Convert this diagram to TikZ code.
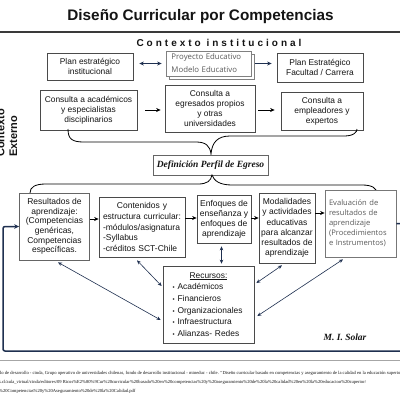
\documentclass[tikz,border=0pt]{standalone}
\usepackage{fontspec}
\setmainfont{Liberation Sans}
\newfontfamily\lightf{Open Sans}
\newfontfamily\serf{Liberation Serif}
\usetikzlibrary{arrows.meta,calc}
\definecolor{navy}{HTML}{1F3050}
\definecolor{boxc}{HTML}{4A4A4A}
\definecolor{lgray}{HTML}{5A5A5A}
\definecolor{txt}{HTML}{141414}
\definecolor{sepc}{HTML}{3A3A3A}
\newcommand\bul{{\fontsize{6}{6}\selectfont\textbullet}\hspace{3pt}}
\begin{document}
\begin{tikzpicture}[x=1pt,y=-1pt,
 bx/.style={draw=boxc, line width=0.7pt, fill=white, align=center, inner sep=1pt, text=txt, font=\fontsize{8.4}{10.5}\selectfont},
 arr/.style={-{Stealth[length=4.5pt,width=4pt]}, line width=0.9pt, black},
 narr/.style={-{Stealth[length=4.5pt,width=4pt]}, line width=0.9pt, navy},
 darr/.style={{Stealth[length=4.5pt,width=4pt]}-{Stealth[length=4.5pt,width=4pt]}, line width=0.9pt, navy},
 tarr/.style={{Stealth[length=4pt,width=3.5pt]}-{Stealth[length=4pt,width=3.5pt]}, line width=0.6pt, navy},
 bracel/.style={line width=0.8pt, black},
 plain/.style={inner sep=0, text=txt},
]
\useasboundingbox (0,0) rectangle (400,400);
\clip (0,0) rectangle (400,400);
\fill[white] (0,0) rectangle (400,400);

% title and separators
\node[plain, anchor=base, font=\bfseries\fontsize{15.3}{18}\selectfont] (title) at (200.5,20) {Diseño Curricular por Competencias};
\coordinate (s1a) at (0,32); \coordinate (s1b) at (400,32);
\draw[sepc, line width=1.6pt] (s1a) -- (s1b);
\node[plain, anchor=base, font=\bfseries\fontsize{10}{12}\selectfont\addfontfeature{LetterSpace=30}] (ctx) at (219,46) {Contexto institucional};

% vertical label
\node[plain, rotate=90, anchor=base west, font=\bfseries\fontsize{11}{13}\selectfont] (ext) at (17,157) {Externo};
\node[plain, rotate=90, anchor=base west, font=\bfseries\fontsize{11}{13}\selectfont] (cont) at (4.5,157) {Contexto};

% row 1
\node[bx, minimum width=86pt, minimum height=27pt] (pei) at (90,66.5) {Plan estratégico\\institucional};
\node[bx, draw=boxc!70, minimum width=85pt, minimum height=25pt] (pe2) at (211.5,66.5) {};
\node[bx, draw=boxc!70, minimum width=85pt, minimum height=25pt, text width=74pt, align=left, text=lgray, font=\lightf\fontsize{7.8}{13}\selectfont] (pe) at (208.5,63.5) {Proyecto Educativo\\Modelo Educativo};
\node[bx, minimum width=86pt, minimum height=29pt] (pef) at (320,67.5) {Plan Estratégico\\Facultad / Carrera};
\draw[darr, shorten <=6pt, shorten >=4pt] (pei.east |- pe.west) -- (pe.west);
\draw[narr, shorten <=4pt, shorten >=5pt] (pe.east) -- (pe.east -| pef.west);

% row 2
\node[bx, minimum width=97pt, minimum height=40pt, font=\fontsize{8.4}{10}\selectfont] (ca) at (88.5,110) {Consulta a académicos\\y especialistas\\disciplinarios};
\node[bx, minimum width=90pt, minimum height=47pt, font=\fontsize{8.4}{10}\selectfont] (ceg) at (210,108.5) {Consulta a\\egresados propios\\y otras\\universidades};
\node[bx, minimum width=82pt, minimum height=38pt, font=\fontsize{8.4}{10}\selectfont] (cem) at (322,111) {Consulta a\\empleadores y\\expertos};
\draw[arr, shorten <=8pt, shorten >=4pt] (ca.east) -- (ca.east -| ceg.west);
\draw[arr, shorten <=3pt, shorten >=6pt] (ceg.east |- ca.east) -- (cem.west |- ca.east);

% upper brace
\draw[bracel] (68,129) .. controls (68,139) and (72,142) .. (84,142) -- (196,142) .. controls (206,142) and (210,146) .. (211,154) .. controls (212,142) and (218,136) .. (230,136) -- (344,136) .. controls (354,136) and (357,132) .. (357,129);

% definicion
\node[bx, draw=boxc!85, minimum width=115pt, minimum height=20pt, font=\serf\bfseries\itshape\fontsize{9.5}{11}\selectfont] (def) at (210.5,165) {Definición Perfil de Egreso};

% lower brace
\draw[bracel] (30,193) .. controls (30,187) and (35,184) .. (46,184) -- (198,184) .. controls (207,184) and (211,181) .. (212,175) .. controls (214,181) and (220,185) .. (232,185) -- (362,185) .. controls (372,185) and (377,188) .. (377,194);

% row 3
\node[bx, draw=boxc!85, minimum width=70pt, minimum height=67pt, font=\fontsize{8.5}{9.6}\selectfont] (res) at (54.5,226.5) {Resultados de\\aprendizaje:\\(Competencias\\genéricas,\\Competencias\\específicas.};
\node[bx, minimum width=86pt, minimum height=60pt, text width=78pt, align=left, font=\fontsize{8.5}{10.7}\selectfont] (con) at (142,227) {\makebox[78pt]{Contenidos y}\\estructura curricular:\\-módulos/asignatura\\-Syllabus\\-créditos SCT-Chile};
\node[bx, minimum width=54pt, minimum height=48pt, font=\fontsize{8.5}{10}\selectfont] (enf) at (224,219) {Enfoques de\\enseñanza y\\enfoques de\\aprendizaje};
\node[bx, minimum width=56pt, minimum height=70pt, font=\fontsize{8.5}{10.2}\selectfont] (mod) at (287,228) {Modalidades\\y actividades\\educativas\\para alcanzar\\resultados de\\aprendizaje};
\node[bx, draw=boxc!75, minimum width=71pt, minimum height=67pt, text width=63pt, align=left, text=lgray, font=\lightf\fontsize{7.6}{10}\selectfont] (eva) at (360.5,223.5) {Evaluación de\\resultados de\\aprendizaje\\(Procedimientos\\e Instrumentos)};

\coordinate (ya) at (0,219);
\coordinate (yb) at (0,218);
\coordinate (yc) at (0,213);
\draw[arr] (res.east |- ya) -- (con.west |- ya);
\draw[arr] (con.east |- yb) -- (enf.west |- yb);
\draw[arr] (enf.east |- yb) -- (mod.west |- yb);
\draw[arr] (mod.east |- yc) -- (eva.west |- yc);

% recursos
\node[bx, minimum width=91pt, minimum height=77pt, text width=72pt, align=left, font=\fontsize{8.4}{11.7}\selectfont] (rec) at (208.5,304.5) {\makebox[72pt]{\underline{Recursos:}}\\\bul Académicos\\\bul Financieros\\\bul Organizacionales\\\bul Infraestructura\\\bul Alianzas- Redes};

\draw[tarr] ($(res.south)+(3.5,2)$) -- ($(rec.west)+(-2,15.5)$);
\draw[tarr] ($(con.south)+(-5,3)$) -- ($(rec.west)+(-1,-18.5)$);
\draw[tarr] ($(enf.south)+(-2.5,3)$) -- ($(rec.north)+(13,-2)$);
\draw[tarr] ($(mod.south)+(-5,2)$) -- ($(rec.east)+(2,-21.5)$);
\draw[tarr] ($(eva.south)+(-17.5,2)$) -- ($(rec.east)+(3,11.5)$);

% feedback loop
\coordinate (lr) at (410,351);
\coordinate (ll) at (3,351);
\draw[navy, line width=1.5pt, rounded corners=2pt, -{Stealth[length=5pt,width=4.5pt]}] (eva.east) -- (eva.east -| lr) |- (ll) |- (res.west);

% signature
\node[plain, anchor=base, font=\serf\bfseries\itshape\fontsize{9.5}{11}\selectfont] (sig) at (345,340) {M. I. Solar};

% bottom separator and reference
\coordinate (s2a) at (0,360); \coordinate (s2b) at (400,360);
\draw[gray!70, line width=0.6pt] (s2a) -- (s2b);
\node[plain, anchor=base west, font=\serf\fontsize{4.6}{5}\selectfont] (ref1) at (-1,374) {do de desarrollo - cinda, Grupo operativo de universidades chilenas, fondo de desarrollo institucional - mineduc - chile. “Diseño curricular basado en competencias y aseguramiento de la calidad en la educación superior”};
\node[plain, anchor=base west, font=\serf\fontsize{4.6}{5}\selectfont] (ref2) at (-1,383) {s.cl/aula\_virtual/cinda/editores/09 Ricos\%E2\%80\%9Cur\%20curricular\%20basado\%20en\%20competencias\%20y\%20aseguramiento\%20de\%20la\%20calidad\%20en\%20la\%20educacion\%20superior/};
\node[plain, anchor=base west, font=\serf\fontsize{4.6}{5}\selectfont] (ref3) at (-1,392) {\%20Competencias\%20y\%20Aseguramiento\%20de\%20la\%20Calidad.pdf};
\end{tikzpicture}
\end{document}
